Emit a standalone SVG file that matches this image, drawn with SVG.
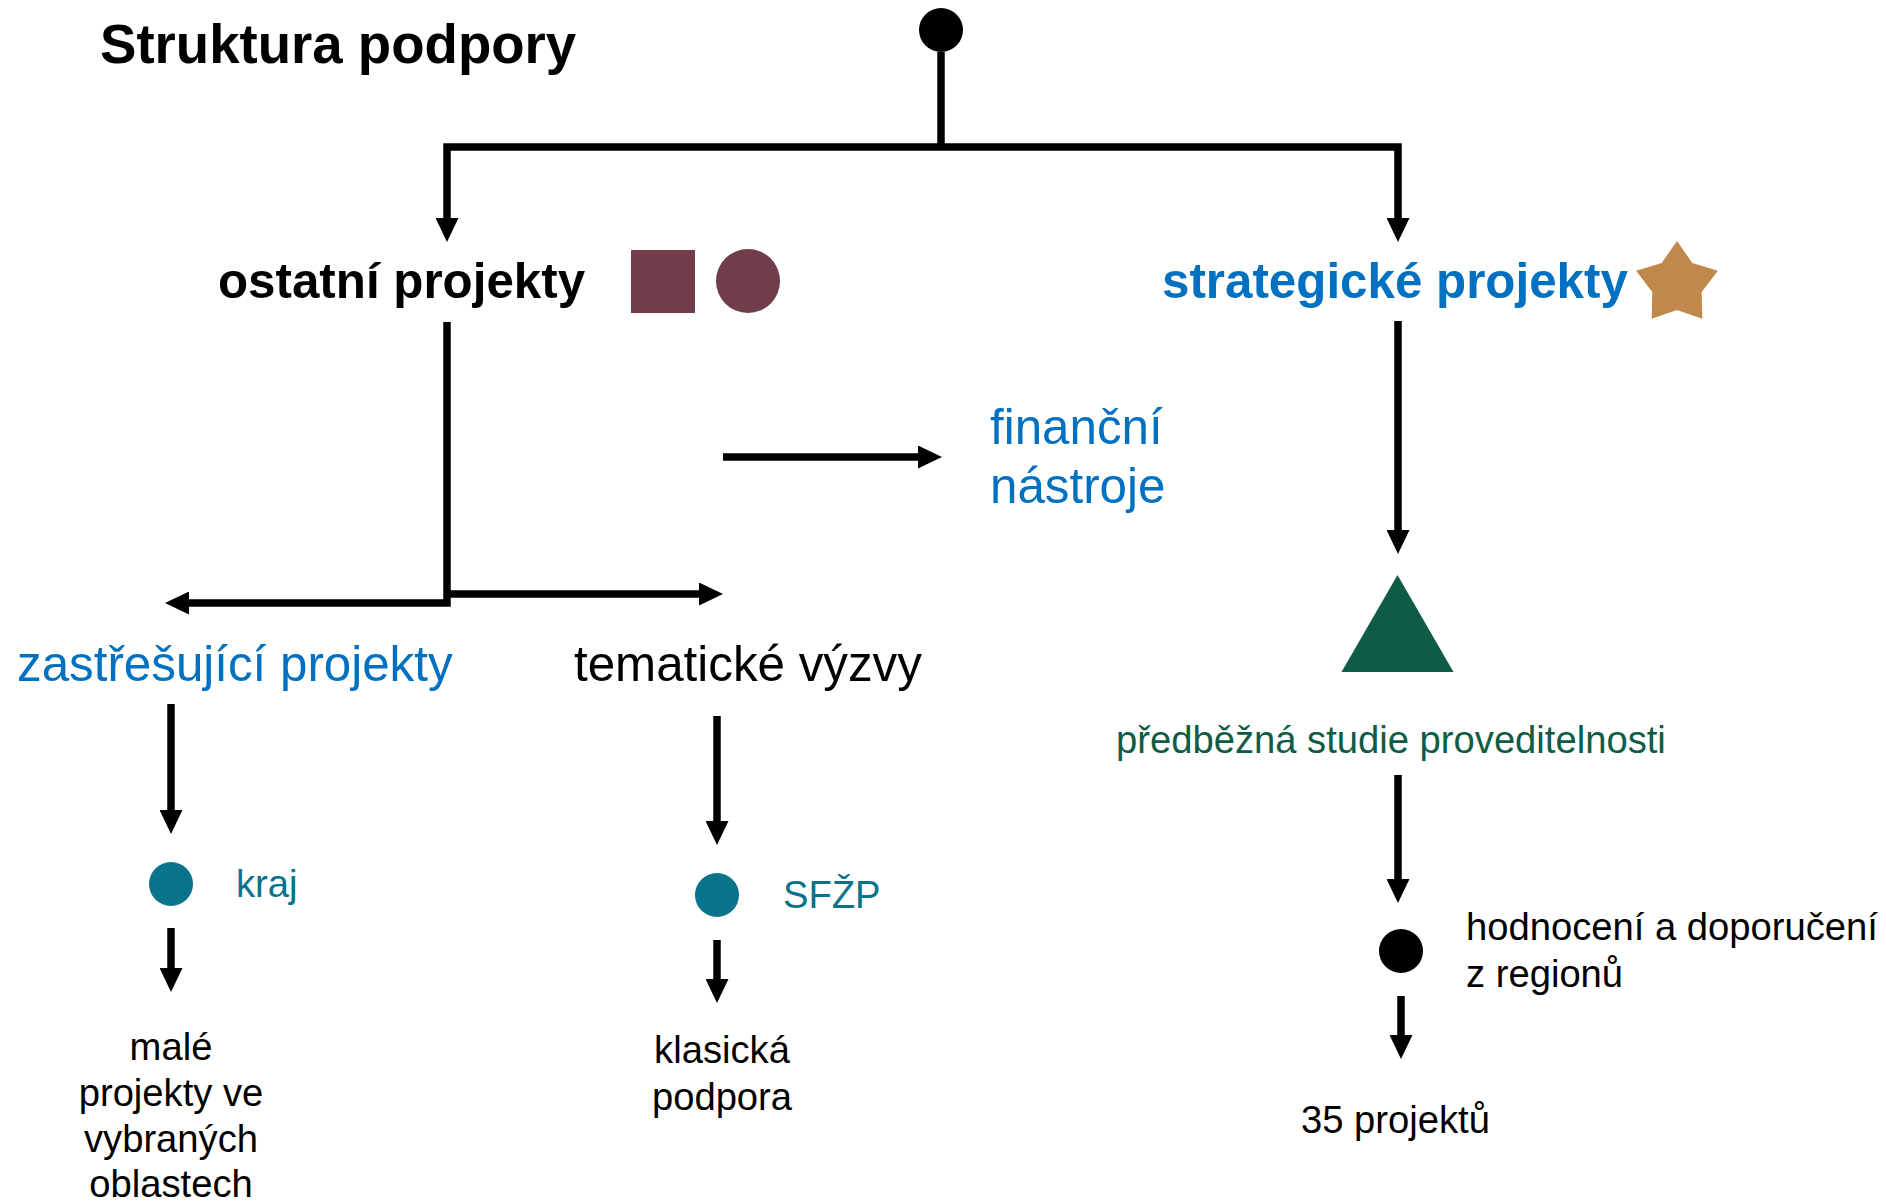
<svg xmlns="http://www.w3.org/2000/svg" width="1886" height="1203" viewBox="0 0 1886 1203">
<style>
text{font-family:"Liberation Sans",Arial,sans-serif}
.b{font-weight:bold;font-size:49.3px}
.m{font-size:49.3px}
.s{font-size:38.2px}
.blue{fill:#0070C0}
.black{fill:#000}
.teal{fill:#08738A}
.green{fill:#0E5C45}
.conn{fill:none;stroke:#000;stroke-width:7.5;stroke-linejoin:miter;stroke-linecap:butt}
</style>
<defs>
<marker id="ah" markerUnits="userSpaceOnUse" markerWidth="24" markerHeight="23" refX="4" refY="11.5" orient="auto" viewBox="0 0 24 23">
<path d="M0,0 L24,11.5 L0,23 z" fill="#000"/>
</marker>
</defs>
<rect width="1886" height="1203" fill="#fff"/>
<g id="connectors" class="conn">
<path d="M941,52 V147"/>
<path d="M941,147 H447 V222" marker-end="url(#ah)"/>
<path d="M941,147 H1398 V222" marker-end="url(#ah)"/>
<path d="M447,322 V603 H185" marker-end="url(#ah)"/>
<path d="M447,594 H703" marker-end="url(#ah)"/>
<path d="M723,457 H922" marker-end="url(#ah)"/>
<path d="M1398,321 V534" marker-end="url(#ah)"/>
<path d="M171,704 V814" marker-end="url(#ah)"/>
<path d="M171,928 V972" marker-end="url(#ah)"/>
<path d="M717,716 V825" marker-end="url(#ah)"/>
<path d="M717,940 V983" marker-end="url(#ah)"/>
<path d="M1398,775 V883" marker-end="url(#ah)"/>
<path d="M1401,996 V1039" marker-end="url(#ah)"/>
</g>
<g id="title">
<text x="100" y="63" style="font-weight:bold;font-size:54.6px" class="black">Struktura podpory</text>
</g>
<g id="start">
<circle cx="941" cy="30" r="22" fill="#000"/>
</g>
<g id="ostatni">
<text x="218" y="298" class="b black">ostatní projekty</text>
<rect x="631" y="250" width="64" height="63" fill="#713D4B"/>
<circle cx="748" cy="281" r="32" fill="#713D4B"/>
</g>
<g id="strategicke">
<text x="1162" y="298" class="b blue">strategické projekty</text>
<polygon points="1677,241 1692.3,263 1717.9,270.7 1701.7,292 1702.3,318.8 1677,310 1651.7,318.8 1652.3,292 1636.1,270.7 1661.7,263" fill="#C0884B"/>
</g>
<g id="financni">
<text x="990" y="444" class="m blue">finanční</text>
<text x="990" y="503" class="m blue">nástroje</text>
</g>
<g id="zastresujici">
<text x="17" y="681" class="m blue">zastřešující projekty</text>
</g>
<g id="tematicke">
<text x="574" y="681" class="m black">tematické výzvy</text>
</g>
<g id="studie">
<polygon points="1397.5,575 1341.5,672 1453.5,672" fill="#0E5C45"/>
<text x="1116" y="753" class="s green">předběžná studie proveditelnosti</text>
</g>
<g id="kraj">
<circle cx="171" cy="884" r="22" fill="#08738A"/>
<text x="236" y="897" class="s teal">kraj</text>
</g>
<g id="male">
<text x="171" y="1060" class="s black" text-anchor="middle">malé</text>
<text x="171" y="1106" class="s black" text-anchor="middle">projekty ve</text>
<text x="171" y="1152" class="s black" text-anchor="middle">vybraných</text>
<text x="171" y="1197" class="s black" text-anchor="middle">oblastech</text>
</g>
<g id="sfzp">
<circle cx="717" cy="895" r="22" fill="#08738A"/>
<text x="783" y="908" class="s teal">SFŽP</text>
</g>
<g id="klasicka">
<text x="722" y="1063" class="s black" text-anchor="middle">klasická</text>
<text x="722" y="1110" class="s black" text-anchor="middle">podpora</text>
</g>
<g id="hodnoceni">
<circle cx="1401" cy="951" r="22" fill="#000"/>
<text x="1466" y="940" class="s black">hodnocení a doporučení</text>
<text x="1466" y="987" class="s black">z regionů</text>
</g>
<g id="projekty35">
<text x="1301" y="1133" class="s black">35 projektů</text>
</g>
</svg>
